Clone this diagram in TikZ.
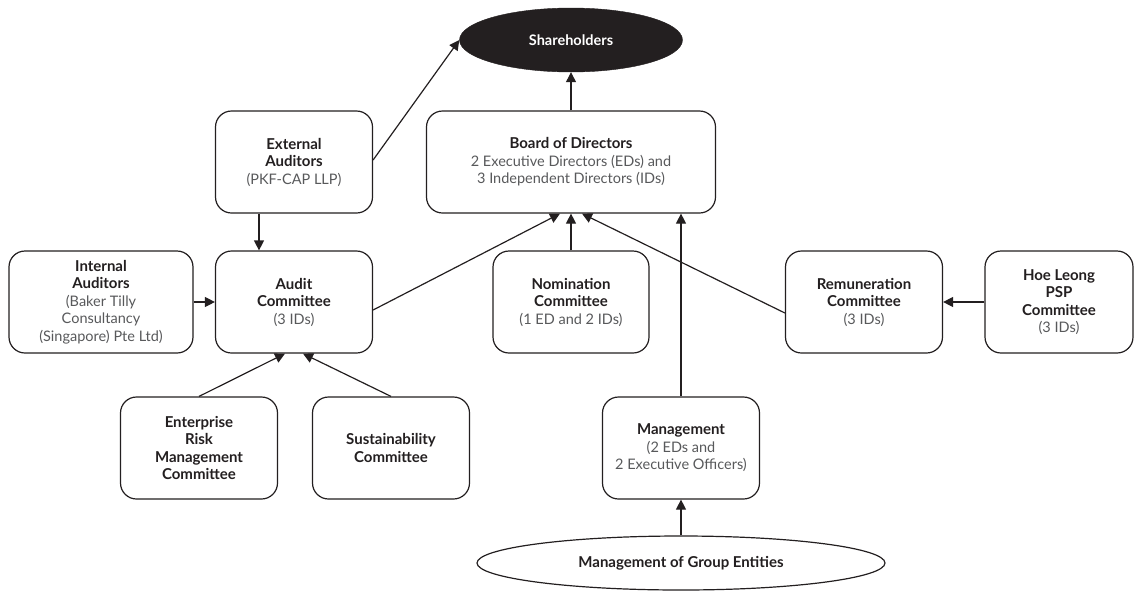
\documentclass[tikz,border=0pt]{standalone}
\usepackage{fontspec}
\setmainfont{Lato}
\usetikzlibrary{shapes.geometric, arrows.meta, calc}
\definecolor{inkblack}{HTML}{231F20}
\definecolor{subgray}{HTML}{58595B}
\tikzstyle{unit} = [rectangle, rounded corners=16pt, minimum width=157pt, minimum height=102pt, align=center, draw=inkblack, line width=1.2pt, fill=white, text=subgray, font=\fontsize{14.5}{17.5}\selectfont]
\tikzstyle{owner} = [ellipse, minimum width=223pt, minimum height=64pt, fill=inkblack, draw=inkblack, text=white, font=\fontsize{14.5}{17.5}\selectfont\bfseries]
\tikzstyle{group} = [ellipse, minimum width=408pt, minimum height=54pt, draw=inkblack, line width=1.2pt, fill=white, text=inkblack, font=\fontsize{15}{17.5}\selectfont\bfseries]
\tikzstyle{arrow} = [line width=1.2pt, draw=inkblack, -{Triangle[length=10pt,width=10pt]}]
\newcommand{\hd}[1]{\textcolor{inkblack}{\fontsize{15}{17.5}\selectfont\bfseries #1}}

\begin{document}
\begin{tikzpicture}[x=1pt, y=-1pt]
\useasboundingbox (0,0) rectangle (1134,592);

\node (share) [owner] at (571,40) {Shareholders};
\node (board) [unit, minimum width=289pt] at (571,162) {\hd{Board of Directors}\\{}2 Executive Directors (EDs) and\\{}3 Independent Directors (IDs)};
\node (ext) [unit] at (294,162) {\hd{External}\\\hd{Auditors}\\{}(PKF-CAP LLP)};
\node (int) [unit, minimum width=184pt] at (101,302) {\hd{Internal}\\\hd{Auditors}\\{}(Baker Tilly\\{}Consultancy\\{}(Singapore) Pte Ltd)};
\node (audit) [unit] at (294,302) {\hd{Audit}\\\hd{Committee}\\{}(3 IDs)};
\node (nom) [unit, minimum width=156pt] at (571,302) {\hd{Nomination}\\\hd{Committee}\\{}(1 ED and 2 IDs)};
\node (rem) [unit] at (864,302) {\hd{Remuneration}\\\hd{Committee}\\{}(3 IDs)};
\node (psp) [unit, minimum width=148pt] at (1059,302) {\hd{Hoe Leong}\\\hd{PSP}\\\hd{Committee}\\{}(3 IDs)};
\node (erm) [unit] at (199,448) {\hd{Enterprise}\\\hd{Risk}\\\hd{Management}\\\hd{Committee}};
\node (sus) [unit] at (391,448) {\hd{Sustainability}\\\hd{Committee}};
\node (mgmt) [unit] at (681,448) {\hd{Management}\\{}(2 EDs and\\{}2 Executive Officers)};
\node (grp) [group] at (681,563) {Management of Group Entities};

\draw [arrow] (board) -- (share);
\draw [arrow] ([yshift=2pt]ext.east) -- (share.west);
\draw [arrow] ([xshift=-35pt]ext.south) -- ([xshift=-35pt]audit.north);
\draw [arrow] (int) -- (audit);
\draw [arrow] ([yshift=-8pt]audit.east) -- ([xshift=-11pt]board.south);
\draw [arrow] (nom) -- (board);
\draw [arrow] ([yshift=-11pt]rem.west) -- ([xshift=11pt]board.south);
\draw [arrow] (mgmt.north) -- (mgmt.north |- board.south);
\draw [arrow] (psp) -- (rem);
\draw [arrow] (erm.north) -- ([xshift=-9pt]audit.south);
\draw [arrow] (sus.north) -- ([xshift=9pt]audit.south);
\draw [arrow] (grp) -- (mgmt);

\end{tikzpicture}
\end{document}
